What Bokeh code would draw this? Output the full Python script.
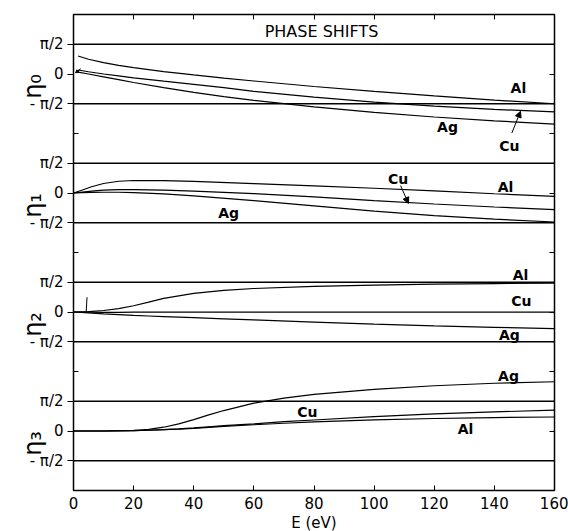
from math import pi
import numpy as np
from bokeh.plotting import figure
from bokeh.models import FixedTicker, LinearAxis, Span, Label, Arrow, NormalHead, Range1d
from bokeh.embed import file_html
from bokeh.resources import INLINE

# ---------------- data (phase shifts in radians) ----------------
E0 = [1.5, 5, 10, 15, 20, 30, 40, 50, 60, 80, 100, 120, 140, 160]
eta0_Al = [0.95, 0.78, 0.60, 0.46, 0.34, 0.13, -0.05, -0.22, -0.37, -0.66, -0.92, -1.16, -1.38, -1.57]
eta0_Cu = [0.21, 0.12, 0.00, -0.10, -0.20, -0.38, -0.55, -0.72, -0.92, -1.22, -1.48, -1.70, -1.87, -2.00]
eta0_Ag = [0.10, 0.00, -0.15, -0.30, -0.45, -0.72, -0.97, -1.19, -1.39, -1.74, -2.03, -2.27, -2.47, -2.65]

E1 = [0, 3, 6, 10, 15, 20, 30, 40, 60, 80, 100, 120, 140, 160]
eta1_Al = [0, 0.16, 0.33, 0.50, 0.62, 0.66, 0.65, 0.61, 0.50, 0.38, 0.25, 0.11, -0.04, -0.18]
eta1_Cu = [0, 0.05, 0.10, 0.15, 0.18, 0.18, 0.15, 0.10, -0.03, -0.20, -0.40, -0.58, -0.74, -0.88]
eta1_Ag = [0, 0.02, 0.03, 0.04, 0.04, 0.02, -0.05, -0.15, -0.40, -0.68, -0.96, -1.19, -1.38, -1.53]

E2 = [0, 5, 10, 15, 20, 25, 30, 40, 50, 60, 80, 100, 120, 140, 160]
eta2_Al = [0, 0.02, 0.08, 0.18, 0.33, 0.52, 0.72, 0.98, 1.14, 1.24, 1.35, 1.42, 1.47, 1.50, 1.52]
eta2_Cu = [0, -0.01, -0.02, -0.02, -0.01, -0.01, -0.01, -0.01, -0.01, -0.01, -0.01, -0.01, -0.01, -0.01, -0.01]
eta2_Ag = [0, -0.05, -0.10, -0.14, -0.18, -0.21, -0.24, -0.30, -0.36, -0.42, -0.53, -0.64, -0.73, -0.81, -0.88]

E3 = [0, 10, 20, 25, 30, 35, 40, 45, 50, 60, 70, 80, 100, 120, 140, 160]
eta3_Ag = [0, 0.0, 0.03, 0.09, 0.20, 0.38, 0.60, 0.85, 1.08, 1.47, 1.74, 1.93, 2.20, 2.39, 2.52, 2.60]
eta3_Cu = [0, 0.0, 0.02, 0.04, 0.07, 0.11, 0.16, 0.22, 0.28, 0.38, 0.49, 0.58, 0.76, 0.90, 1.01, 1.10]
eta3_Al = [0, 0.0, 0.02, 0.04, 0.07, 0.10, 0.14, 0.19, 0.24, 0.33, 0.41, 0.48, 0.59, 0.66, 0.71, 0.74]

x_ticks = [0, 20, 40, 60, 80, 100, 120, 140, 160]
y_tick_values = [pi / 2, 0.0, -pi / 2]
y_tick_labels = ["π/2", "0", "- π/2"]
panel_names = ["η₀", "η₁", "η₂", "η₃"]

panels = [
    (E0, [eta0_Al, eta0_Cu, eta0_Ag]),
    (E1, [eta1_Al, eta1_Cu, eta1_Ag]),
    (E2, [eta2_Al, eta2_Cu, eta2_Ag]),
    (E3, [eta3_Ag, eta3_Cu, eta3_Al]),
]

# curve labels: (panel, E, eta, text)
curve_labels = [
    (0, 148, -0.76, "Al"), (0, 124.4, -2.78, "Ag"), (0, 145, -3.81, "Cu"),
    (1, 108, 0.76, "Cu"), (1, 143.7, 0.34, "Al"), (1, 51.6, -1.08, "Ag"),
    (2, 148.7, 1.93, "Al"), (2, 149, 0.57, "Cu"), (2, 145, -1.24, "Ag"),
    (3, 144.7, 2.93, "Ag"), (3, 77.8, 0.98, "Cu"), (3, 130.4, 0.09, "Al"),
]
# pointer arrows: (panel, E_start, eta_start, E_end, eta_end, head size)
pointers = [
    (0, 145.8, -3.12, 148.7, -1.97, 6),
    (1, 108.8, 0.39, 111.4, -0.55, 6),
    (0, 2.4, 0.28, 0.7, 0.06, 3),
]

OFF = 2 * pi  # vertical offset between stacked panels
FONT = "DejaVu Sans"

p = figure(frame_width=481, frame_height=476,
           x_range=Range1d(0, 160), y_range=Range1d(-7 * pi, pi),
           output_backend="svg", toolbar_location=None,
           min_border_left=73, min_border_right=14, min_border_top=14, min_border_bottom=41)
p.xgrid.visible = False
p.ygrid.visible = False
p.outline_line_color = "black"
p.outline_line_width = 1.5
p.background_fill_color = "white"
p.border_fill_color = "white"

# bottom axis
xa = p.xaxis[0]
xa.ticker = FixedTicker(ticks=x_ticks)
xa.major_tick_in = 5
xa.major_tick_out = 0
xa.minor_tick_line_color = None
xa.major_label_text_font = FONT
xa.major_label_text_font_size = "15px"
xa.major_label_text_color = "black"
xa.major_label_standoff = 6
xa.axis_label = "E (eV)"
xa.axis_label_text_font = FONT
xa.axis_label_text_font_size = "15px"
xa.axis_label_text_font_style = "normal"
xa.axis_label_text_color = "black"
xa.axis_label_standoff = 2
xa.axis_line_color = "black"

# left axis
ymaj, overrides = [], {}
for k in range(4):
    for v, lab in zip(y_tick_values, y_tick_labels):
        t = v - OFF * k
        ymaj.append(t)
        overrides[t] = lab
ymin = [-pi - OFF * k for k in range(3)]
ya = p.yaxis[0]
ya.ticker = FixedTicker(ticks=ymaj, minor_ticks=ymin)
ya.major_label_overrides = overrides
ya.major_tick_in = 0
ya.major_tick_out = 6
ya.minor_tick_in = 5
ya.minor_tick_out = 0
ya.minor_tick_line_color = "black"
ya.major_label_text_font = FONT
ya.major_label_text_font_size = "15px"
ya.major_label_text_color = "black"
ya.major_label_standoff = 4
ya.axis_line_color = "black"

# outer left axis carrying the panel names eta_l
centers = [-OFF * k for k in range(4)]
na = LinearAxis(ticker=FixedTicker(ticks=centers),
                major_label_overrides={c: n for c, n in zip(centers, panel_names)},
                major_label_orientation=pi / 2, major_label_standoff=-12,
                major_label_text_font=FONT, major_label_text_font_size="24px",
                major_label_text_color="black",
                major_tick_line_color=None, minor_tick_line_color=None,
                axis_line_color=None)
p.add_layout(na, "left")

# right axis (ticks only)
rt = [-OFF * k for k in range(4)] + ymin
ra = LinearAxis(ticker=FixedTicker(ticks=rt), major_tick_in=5, major_tick_out=0,
                minor_tick_line_color=None, major_label_overrides={t: "" for t in rt},
                major_label_text_font_size="1px", major_label_standoff=0)
p.add_layout(ra, "right")
# top axis (ticks only)
tt = x_ticks[1:-1]
ta = LinearAxis(ticker=FixedTicker(ticks=tt), major_tick_in=5, major_tick_out=0,
                minor_tick_line_color=None, major_label_overrides={t: "" for t in tt},
                major_label_text_font_size="1px", major_label_standoff=0)
p.add_layout(ta, "above")

# reference lines at +/- pi/2
for k in range(4):
    for v in (pi / 2, -pi / 2):
        p.add_layout(Span(location=v - OFF * k, dimension="width",
                          line_color="black", line_width=1.5))

# curves
for k, (E, series) in enumerate(panels):
    for s in series:
        p.line(E, np.array(s) - OFF * k, line_color="black", line_width=1.2)

# labels on curves
for k, e, v, txt in curve_labels:
    p.add_layout(Label(x=e, y=v - OFF * k, text=txt, text_align="center",
                       text_baseline="middle", text_font=FONT, text_font_size="14px",
                       text_font_style="bold", text_color="black"))

for k, e1, v1, e2, v2, hs in pointers:
    p.add_layout(Arrow(x_start=e1, y_start=v1 - OFF * k, x_end=e2, y_end=v2 - OFF * k,
                       line_width=1, line_color="black",
                       end=NormalHead(size=hs, fill_color="black", line_color="black")))

# small hook mark in eta2 panel
p.add_layout(Arrow(x_start=4.5, y_start=0.78 - OFF * 2, x_end=4.2, y_end=-0.05 - OFF * 2,
                   line_width=1, line_color="black", end=None))

# title band
p.add_layout(Label(x=82.5, y=2.25, text="PHASE SHIFTS", text_align="center",
                   text_baseline="middle", text_font=FONT, text_font_size="16px",
                   text_color="black"))

open("out.html", "w").write(file_html(p, INLINE))
